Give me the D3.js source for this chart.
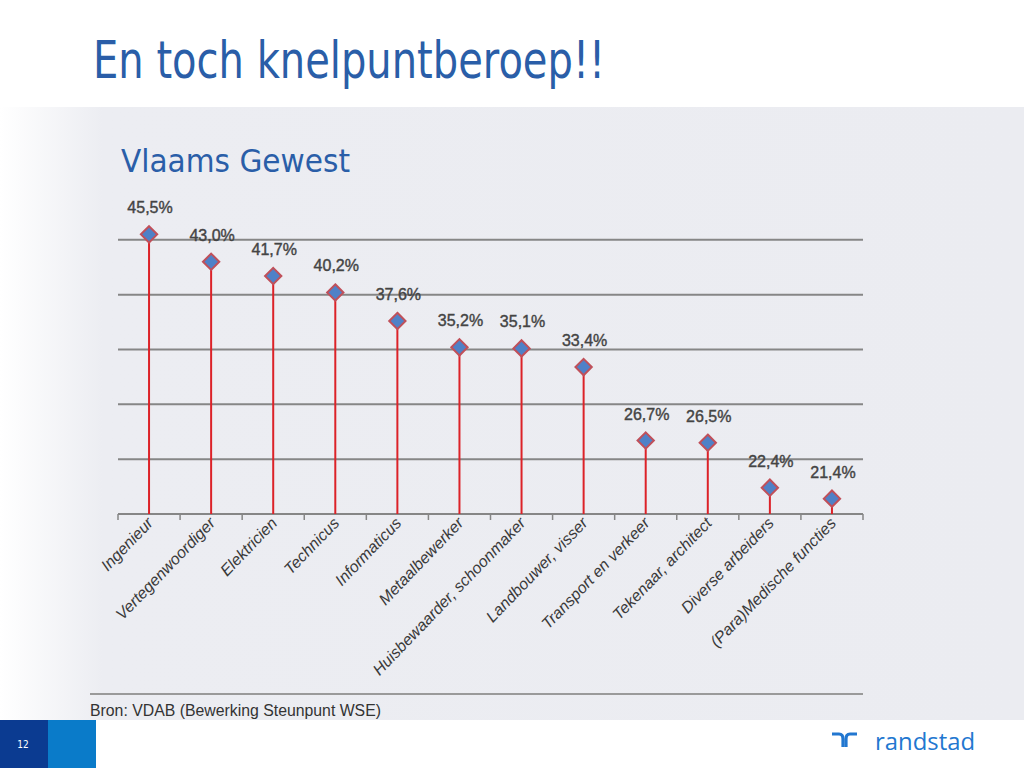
<!DOCTYPE html>
<html>
<head>
<meta charset="utf-8">
<script src="https://cdn.jsdelivr.net/npm/d3@7"></script>
<style>
  html, body { margin: 0; padding: 0; background: #fff; }
  svg { display: block; }
</style>
</head>
<body>
<svg id="chart" width="1024" height="768"></svg>
<script>
const categories = ['Ingenieur', 'Vertegenwoordiger', 'Elektricien', 'Technicus', 'Informaticus',
  'Metaalbewerker', 'Huisbewaarder, schoonmaker', 'Landbouwer, visser', 'Transport en verkeer',
  'Tekenaar, architect', 'Diverse arbeiders', '(Para)Medische functies']
const values = [45.5, 43.0, 41.7, 40.2, 37.6, 35.2, 35.1, 33.4, 26.7, 26.5, 22.4, 21.4]
const gridTicks = [25, 30, 35, 40, 45]

const svg = d3.select('#chart')
const defs = svg.append('defs')
const grad = defs.append('linearGradient').attr('id', 'panelGrad')
  .attr('x1', 0).attr('x2', 1).attr('y1', 0).attr('y2', 0)
grad.append('stop').attr('offset', '0%').attr('stop-color', '#ffffff')
grad.append('stop').attr('offset', '10%').attr('stop-color', '#ecedf2')
grad.append('stop').attr('offset', '100%').attr('stop-color', '#ebecf1')

// background panel
svg.append('rect').attr('x', 0).attr('y', 107).attr('width', 1024).attr('height', 613)
  .attr('fill', 'url(#panelGrad)')

svg.append('text').attr('x', 93).attr('y', 78)
  .attr('font-family', 'DejaVu Sans, sans-serif')
  .attr('font-size', 51).attr('fill', '#2a5ea8')
  .attr('textLength', 512).attr('lengthAdjust', 'spacingAndGlyphs')
  .text('En toch knelpuntberoep!!')

svg.append('text').attr('x', 121).attr('y', 172)
  .attr('font-family', 'DejaVu Sans, sans-serif')
  .attr('font-size', 32).attr('fill', '#2a5ea8')
  .attr('textLength', 229).attr('lengthAdjust', 'spacingAndGlyphs')
  .text('Vlaams Gewest')

const x = d3.scaleBand().domain(categories).range([118, 863])
const y = d3.scaleLinear().domain([20, 50]).range([514, 185])

const chart = svg.append('g')

// gridlines
chart.selectAll('line.grid').data(gridTicks).join('line')
  .attr('class', 'grid')
  .attr('x1', 118).attr('x2', 863)
  .attr('y1', d => y(d)).attr('y2', d => y(d))
  .attr('stroke', '#868686').attr('stroke-width', 2)

// x axis
const xAxis = chart.append('g').attr('transform', `translate(0,${y(20)})`)
xAxis.append('line').attr('x1', 118).attr('x2', 863)
  .attr('stroke', '#868686').attr('stroke-width', 2)
const bounds = categories.map(c => x(c)).concat([863])
xAxis.selectAll('line.tick').data(bounds).join('line')
  .attr('class', 'tick')
  .attr('x1', d => d).attr('x2', d => d).attr('y1', 0).attr('y2', 6)
  .attr('stroke', '#868686').attr('stroke-width', 1.5)

xAxis.selectAll('text').data(categories).join('text')
  .attr('transform', d => `translate(${x(d) + x.bandwidth() / 2 + 5},${10}) rotate(-46)`)
  .attr('text-anchor', 'end')
  .attr('font-family', 'Liberation Sans, Arial, sans-serif')
  .attr('font-style', 'italic')
  .attr('font-size', 16).attr('fill', '#3a3a3a')
  .text(d => d)

const pts = categories.map((c, i) => ({ c, v: values[i] }))

// stems
chart.selectAll('line.stem').data(pts).join('line')
  .attr('class', 'stem')
  .attr('x1', d => x(d.c) + x.bandwidth() / 2).attr('x2', d => x(d.c) + x.bandwidth() / 2)
  .attr('y1', d => y(d.v)).attr('y2', y(20))
  .attr('stroke', '#dc2228').attr('stroke-width', 2)

// markers
const diamond = d3.symbol().type(d3.symbolDiamond2).size(170)
chart.selectAll('path.marker').data(pts).join('path')
  .attr('class', 'marker')
  .attr('transform', d => `translate(${x(d.c) + x.bandwidth() / 2},${y(d.v)})`)
  .attr('d', diamond)
  .attr('fill', '#4f81c7').attr('stroke', '#c0505a').attr('stroke-width', 2)

// value labels
chart.selectAll('text.val').data(pts).join('text')
  .attr('class', 'val')
  .attr('x', d => x(d.c) + x.bandwidth() / 2 + 1)
  .attr('y', d => y(d.v) - 21)
  .attr('text-anchor', 'middle')
  .attr('font-family', 'Liberation Sans, Arial, sans-serif')
  .attr('font-size', 16).attr('fill', '#444')
  .attr('stroke', '#444').attr('stroke-width', 0.4)
  .text(d => d3.format('.1f')(d.v).replace('.', ',') + '%')

// source
svg.append('line').attr('x1', 90).attr('x2', 863).attr('y1', 694).attr('y2', 694)
  .attr('stroke', '#9a9a9a').attr('stroke-width', 2)
svg.append('text').attr('x', 90).attr('y', 716)
  .attr('font-family', 'Liberation Sans, Arial, sans-serif')
  .attr('font-size', 16).attr('fill', '#333')
  .attr('textLength', 291).attr('lengthAdjust', 'spacingAndGlyphs')
  .text('Bron: VDAB (Bewerking Steunpunt WSE)')

// footer
svg.append('rect').attr('x', 0).attr('y', 720).attr('width', 1024).attr('height', 48).attr('fill', '#fff')
svg.append('rect').attr('x', 0).attr('y', 720).attr('width', 48).attr('height', 48).attr('fill', '#0b3b91')
svg.append('rect').attr('x', 48).attr('y', 720).attr('width', 48).attr('height', 48).attr('fill', '#0a7bc9')
svg.append('text').attr('x', 23).attr('y', 748).attr('text-anchor', 'middle')
  .attr('font-family', 'DejaVu Sans Condensed, DejaVu Sans, sans-serif')
  .attr('font-size', 10).attr('fill', '#fff').text('12')

// randstad logo
const logo = svg.append('g').attr('transform', 'translate(832,732)')
  .attr('fill', 'none').attr('stroke', '#2277d0').attr('stroke-width', 3.2)
logo.append('path').attr('d', 'M0,2 L7,2 Q11,2 11,7 L11,15')
logo.append('path').attr('d', 'M25,2 L18,2 Q14,2 14,7 L14,15')
svg.append('text').attr('x', 875).attr('y', 750)
  .attr('font-family', 'Open Sans, Noto Sans, sans-serif')
  .attr('font-size', 24).attr('fill', '#2277d0')
  .attr('textLength', 100).attr('lengthAdjust', 'spacingAndGlyphs')
  .text('randstad')
</script>
</body>
</html>
